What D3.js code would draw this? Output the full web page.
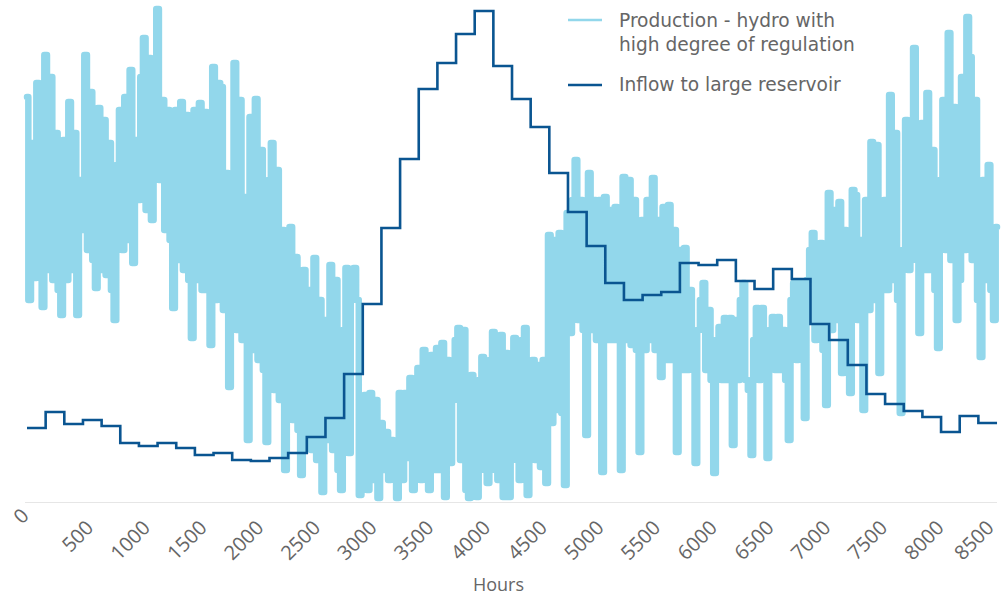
<!DOCTYPE html>
<html>
<head>
<meta charset="utf-8">
<script src="https://cdn.jsdelivr.net/npm/d3@7"></script>
<style>
  html, body { margin: 0; padding: 0; background: #ffffff; }
  svg { display: block; }
  text { font-family: "Open Sans", "Liberation Sans", Arial, sans-serif; fill: #666666; }
  .legend text { font-family: "DejaVu Sans", "Open Sans", sans-serif; }
</style>
</head>
<body>
<svg id="chart" width="1001" height="599"></svg>
<script>
// ---------------- DATA ----------------
// x-axis tick labels (hours)
const tickValues = [0, 500, 1000, 1500, 2000, 2500, 3000, 3500, 4000, 4500, 5000, 5500, 6000, 6500, 7000, 7500, 8000, 8500];

// time step of the series (hours)
const weekHours = 164.5;
const dayHours = weekHours / 7;

// Inflow to large reservoir (one value per week, relative units)
const inflow = [
  74, 90, 78, 82, 76, 59, 56, 59, 54, 47, 49, 42, 41, 44, 49, 65,
  84, 128, 198, 274, 343, 413, 439, 468, 491, 436, 403, 375, 329, 290, 256, 219,
  202, 207, 210, 239, 237, 242, 221, 213, 233, 223, 178, 162, 137, 108, 98, 91,
  85, 70, 86, 79
];

// Production - hydro with high degree of regulation (one value per day, relative units)
const production = [
  405, 202, 359, 224, 419, 352, 195, 447, 232, 425, 222,
  369, 212, 187, 362, 222, 400, 232, 369, 187, 322,
  272, 447, 252, 410, 242, 214, 394, 232, 382, 227,
  359, 212, 182, 337, 392, 252, 405, 262, 432, 239,
  362, 302, 425, 464, 292, 444, 282, 405, 493, 322,
  402, 272, 392, 262, 194, 392, 242, 400, 232, 387,
  222, 164, 392, 222, 399, 212, 390, 212, 157, 435,
  202, 419, 415, 192, 329, 115, 182, 439, 172, 402,
  162, 305, 62, 385, 152, 403, 142, 352, 132, 60,
  322, 359, 112, 332, 102, 272, 32, 92, 275, 82,
  245, 72, 27, 232, 62, 212, 52, 244, 42, 202,
  10, 182, 62, 237, 52, 222, 32, 12, 172, 234,
  49, 232, 234, 202, 7, 32, 107, 12, 109, 22,
  102, 4, 79, 32, 70, 22, 62, 32, 4, 109,
  22, 109, 44, 124, 12, 117, 134, 22, 152, 32,
  12, 147, 32, 154, 32, 159, 5, 142, 39, 102,
  162, 174, 42, 172, 12, 4, 127, 32, 5, 122,
  145, 32, 19, 142, 170, 32, 22, 167, 5, 149,
  5, 122, 164, 42, 22, 162, 174, 7, 122, 142,
  42, 137, 35, 142, 19, 267, 79, 262, 92, 269,
  89, 17, 289, 169, 302, 342, 182, 302, 172, 67,
  329, 172, 302, 162, 302, 30, 305, 162, 292, 162,
  295, 162, 32, 325, 162, 322, 157, 302, 152, 50,
  282, 152, 302, 162, 324, 152, 282, 125, 295, 142,
  297, 142, 272, 50, 252, 132, 254, 132, 212, 142,
  39, 172, 202, 219, 132, 192, 122, 29, 162, 175,
  122, 184, 122, 184, 57, 182, 122, 202, 219, 122,
  112, 47, 162, 194, 122, 194, 132, 44, 172, 185,
  132, 185, 132, 172, 122, 62, 202, 219, 142, 219,
  152, 84, 222, 252, 269, 162, 242, 259, 152, 97,
  309, 172, 292, 182, 300, 129, 272, 172, 109, 312,
  307, 182, 262, 92, 302, 192, 360, 202, 357, 129,
  212, 302, 212, 407, 222, 369, 202, 89, 252, 382,
  232, 342, 454, 242, 169, 379, 232, 409, 232, 352,
  212, 154, 322, 402, 252, 469, 242, 395, 182, 222,
  425, 252, 485, 445, 242, 402, 202, 145, 322, 222, 337, 212, 182, 275
];

const seriesNames = [["Production - hydro with", "high degree of regulation"], ["Inflow to large reservoir"]];
const axisTitle = "Hours";

// ---------------- CHART ----------------
const svg = d3.select("#chart");
const colProd = "#92d7eb";
const colInflow = "#0a5591";

const x = d3.scaleLinear().domain([0, 8500]).range([27, 990.9]);
const y = d3.scaleLinear().domain([0, 500]).range([502, 2]);

// axis baseline
svg.append("line")
  .attr("x1", 25).attr("x2", 997)
  .attr("y1", 502.5).attr("y2", 502.5)
  .attr("stroke", "#e6e6e6").attr("stroke-width", 1);

// production line
const prodPts = production.map((v, i) => [i * dayHours, v]);
svg.append("path")
  .datum(prodPts)
  .attr("fill", "none")
  .attr("stroke", colProd)
  .attr("stroke-width", 6.5)
  .attr("stroke-linejoin", "round")
  .attr("stroke-linecap", "round")
  .attr("d", d3.line().curve(d3.curveStep).x(d => x(d[0])).y(d => y(d[1])));

// inflow step line
const inflowPts = inflow.map((v, i) => [i * weekHours, v]);
inflowPts.push([inflow.length * weekHours, inflow[inflow.length - 1]]);
svg.append("path")
  .datum(inflowPts)
  .attr("fill", "none")
  .attr("stroke", colInflow)
  .attr("stroke-width", 2.6)
  .attr("stroke-linejoin", "miter")
  .attr("d", d3.line().curve(d3.curveStepAfter).x(d => x(d[0])).y(d => y(d[1])));

// x-axis tick labels, rotated -45
const lab = svg.append("g");
tickValues.forEach((t, i) => {
  const ax = i === 0 ? 30 : Math.min(x(t) + 11, 995);
  const ay = i === 0 ? 517 : 529;
  lab.append("text")
    .attr("transform", `translate(${ax},${ay}) rotate(-45)`)
    .attr("text-anchor", "end")
    .attr("font-size", 20)
    .text(t);
});

// axis title
svg.append("text")
  .attr("x", 498.5).attr("y", 591)
  .attr("text-anchor", "middle")
  .attr("font-size", 18)
  .text(axisTitle);

// legend
const leg = svg.append("g").attr("class", "legend");
const legColors = [colProd, colInflow];
const legLineY = [20, 85];
const legTextY = [26.7, 90.5];
seriesNames.forEach((lines, k) => {
  leg.append("line").attr("x1", 568).attr("x2", 602)
    .attr("y1", legLineY[k]).attr("y2", legLineY[k])
    .attr("stroke", legColors[k]).attr("stroke-width", 2.5);
  const t = leg.append("text").attr("x", 619).attr("y", legTextY[k]).attr("font-size", 18.6);
  lines.forEach((s, j) => {
    t.append("tspan").attr("x", 619).attr("dy", j === 0 ? 0 : 24).text(s);
  });
});
</script>
</body>
</html>
